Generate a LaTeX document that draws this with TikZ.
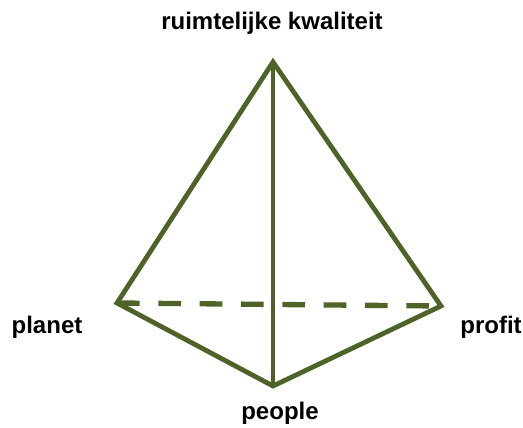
\documentclass[tikz,border=0pt]{standalone}
\usepackage{fontspec}
\setmainfont{Liberation Sans}
\definecolor{olive}{HTML}{4F6228}
\begin{document}
\begin{tikzpicture}[x=0.75pt,y=-0.75pt,
  edge/.style={draw=olive,line width=3.6pt,line join=miter,line cap=butt},
  dashedge/.style={edge,line width=4pt,dash pattern=on 17pt off 14pt},
  lbl/.style={font=\fontsize{18}{21}\selectfont\bfseries,anchor=base,inner sep=0pt}]
\useasboundingbox (0,0) rectangle (523,427);
\coordinate (A) at (273,62);
\coordinate (L) at (117,303);
\coordinate (R) at (441,306);
\coordinate (B) at (273,386);
\draw[edge] (L) -- (A) -- (R) -- (B) -- cycle;
\draw[edge] (A) -- (B);
\draw[dashedge] (L) -- (R);
\node[lbl] (t) at (272,30) {ruimtelijke kwaliteit};
\node[lbl] (pl) at (47,333) {planet};
\node[lbl] (pr) at (491,333) {profit};
\node[lbl] (pe) at (280,419) {people};
\end{tikzpicture}
\end{document}
